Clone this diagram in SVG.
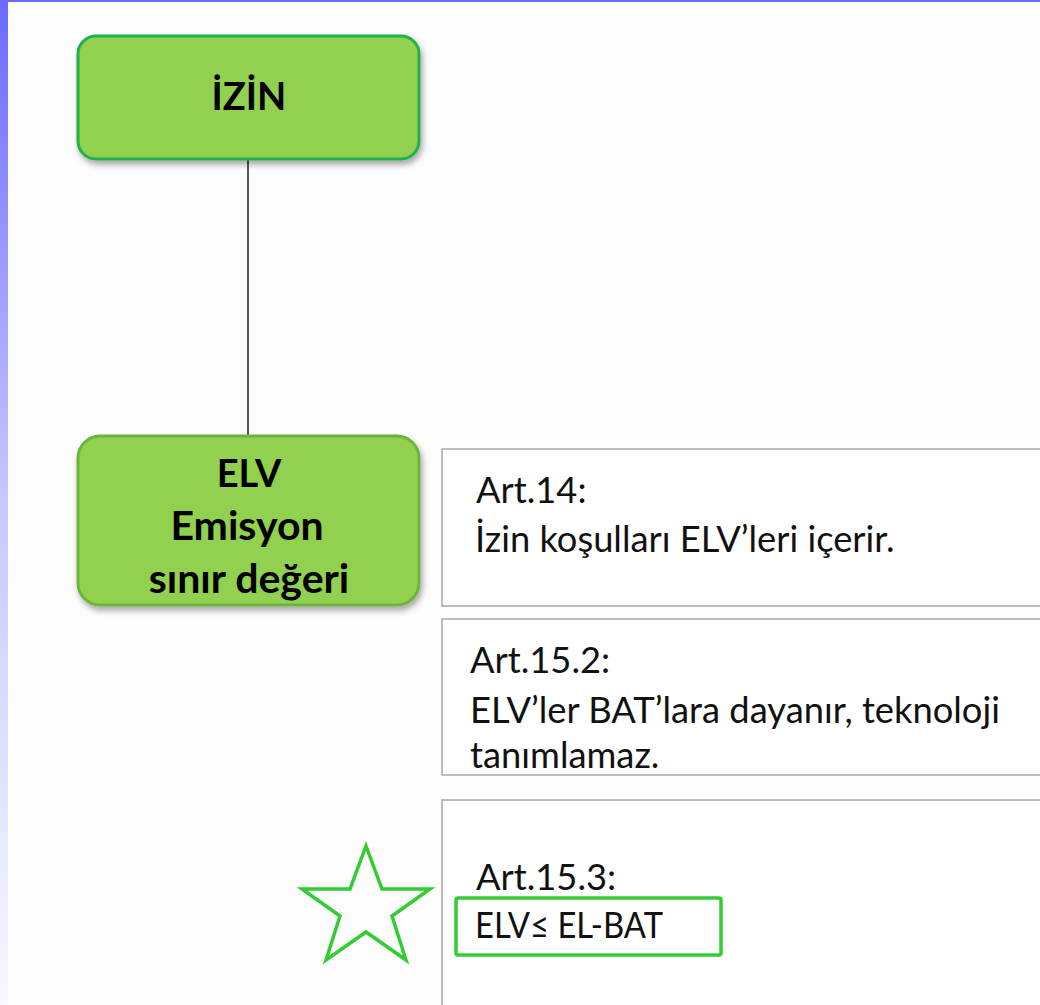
<svg xmlns="http://www.w3.org/2000/svg" width="1040" height="1005" viewBox="0 0 1040 1005">
  <defs>
    <linearGradient id="side" x1="0" y1="0" x2="0" y2="1">
      <stop offset="0" stop-color="#6a6aff"/>
      <stop offset="0.5" stop-color="#c8c8ff"/>
      <stop offset="1" stop-color="#f8f8ff"/>
    </linearGradient>
    <filter id="shadow" x="-10%" y="-10%" width="125%" height="130%">
      <feDropShadow dx="2" dy="4" stdDeviation="3" flood-color="#000" flood-opacity="0.35"/>
    </filter>
  </defs>
  <style>
    .node { fill: #92d050; stroke-width: 3; }
    .title { font-family: "Lato", "Liberation Sans", sans-serif; font-weight: bold; font-size: 38px; fill: #000; text-anchor: middle; }
    .title.lc { font-size: 41px; }
    .box { fill: #fff; stroke: #a6a6a6; stroke-width: 1.5; }
    .body { font-family: "Lato", "Liberation Sans", sans-serif; font-size: 36.3px; fill: #111; }
    .connector { stroke: #555; stroke-width: 2; fill: none; }
    .hl { fill: none; stroke: #33cc33; stroke-width: 3.5; }
  </style>
  <rect x="0" y="0" width="1040" height="1005" fill="#fdfdfd"/>
  <rect x="0" y="0" width="1040" height="2" fill="#6a6aff"/>
  <rect x="0" y="0" width="8" height="1005" fill="url(#side)"/>

  <g id="connectors">
    <line class="connector" x1="248" y1="159" x2="248" y2="436"/>
  </g>

  <g id="node-izin">
    <rect class="node" x="78" y="36" width="341" height="123" rx="18" stroke="#22b04c" filter="url(#shadow)"/>
    <text class="title" x="249" y="110">İZİN</text>
  </g>

  <g id="node-elv">
    <rect class="node" x="78" y="436" width="341" height="169" rx="22" stroke="#6cb43c" filter="url(#shadow)"/>
    <text class="title" x="249" y="487">ELV</text>
    <text class="title lc" x="247" y="540">Emisyon</text>
    <text class="title lc" x="249" y="593">sınır değeri</text>
  </g>

  <g id="box-art14">
    <rect class="box" x="442" y="449" width="610" height="157"/>
    <text class="body" x="476" y="503">Art.14:</text>
    <text class="body" x="475" y="552">İzin koşulları ELV’leri içerir.</text>
  </g>

  <g id="box-art152">
    <rect class="box" x="442" y="619" width="610" height="156"/>
    <text class="body" x="470" y="673">Art.15.2:</text>
    <text class="body" x="470" y="723">ELV’ler BAT’lara dayanır, teknoloji</text>
    <text class="body" x="470" y="768">tanımlamaz.</text>
  </g>

  <g id="box-art153">
    <rect class="box" x="442" y="800" width="610" height="220"/>
    <text class="body" x="476" y="890">Art.15.3:</text>
    <rect class="hl" x="456" y="898" width="265" height="57" rx="2"/>
    <text class="body" x="475" y="938" textLength="188" lengthAdjust="spacingAndGlyphs">ELV≤ EL-BAT</text>
  </g>

  <g id="star">
    <polygon class="hl" fill="#fff" points="366,846 382,889 430,889 392,916 406,960 366,932 326,960 340,916 302,889 350,889"/>
  </g>
</svg>
